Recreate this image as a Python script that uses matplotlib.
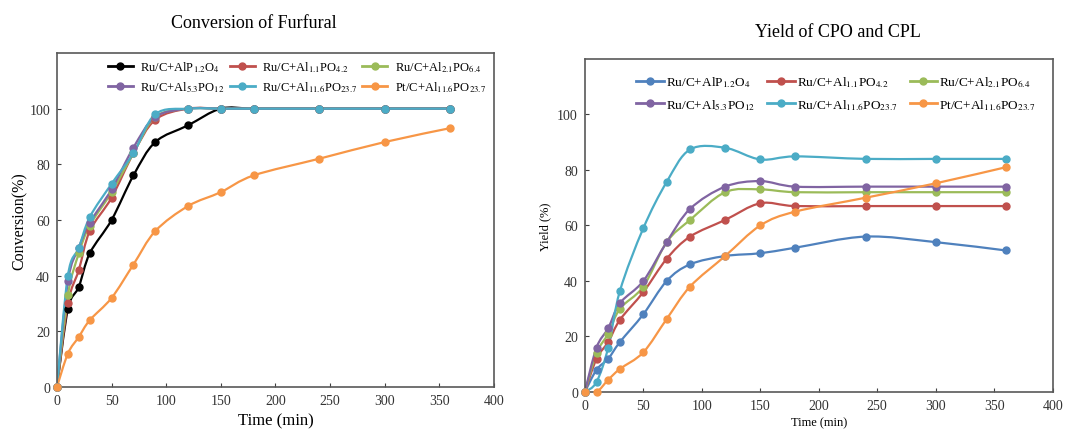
import numpy as np
import matplotlib
matplotlib.use("Agg")
import matplotlib.pyplot as plt
from matplotlib.path import Path
from matplotlib.patches import PathPatch
from matplotlib.lines import Line2D

plt.rcParams['font.family'] = ['Liberation Serif', 'DejaVu Serif']
plt.rcParams['mathtext.fontset'] = 'stix'

# time points (min)
t = [0, 10, 20, 30, 50, 70, 90, 120, 150, 180, 240, 300, 360]

labels = [r'Ru/C+AlP$_{1.2}$O$_4$', r'Ru/C+Al$_{1.1}$PO$_{4.2}$', r'Ru/C+Al$_{2.1}$PO$_{6.4}$',
          r'Ru/C+Al$_{5.3}$PO$_{12}$', r'Ru/C+Al$_{11.6}$PO$_{23.7}$', r'Pt/C+Al$_{11.6}$PO$_{23.7}$']

# conversion of furfural (%)
conv_alp12 = [0, 28, 36, 48, 60, 76, 88, 94, 100, 100, 100, 100, 100]
conv_al11 = [0, 30, 42, 56, 68, 84, 96, 100, 100, 100, 100, 100, 100]
conv_al21 = [0, 33, 48, 58, 70, 84, 97, 100, 100, 100, 100, 100, 100]
conv_al53 = [0, 38, 50, 59, 71, 86, 97, 100, 100, 100, 100, 100, 100]
conv_al116 = [0, 40, 50, 61, 73, 84, 98, 100, 100, 100, 100, 100, 100]
conv_pt = [0, 12, 18, 24, 32, 44, 56, 65, 70, 76, 82, 88, 93]

# yield of CPO and CPL (%)
yld_alp12 = [0, 8, 12, 18, 28, 40, 46, 49, 50, 52, 56, 54, 51]
yld_al11 = [0, 12, 18, 26, 36, 48, 56, 62, 68, 67, 67, 67, 67]
yld_al21 = [0, 14, 21, 30, 38, 54, 62, 72, 73, 72, 72, 72, 72]
yld_al53 = [0, 16, 23, 32, 40, 54, 66, 74, 76, 74, 74, 74, 74]
yld_al116 = [0, 3.6, 16, 36.4, 59, 75.7, 87.4, 88, 83.8, 84.9, 84, 84, 84]
yld_pt = [0, 0, 4.4, 8.3, 14.3, 26.3, 38, 49, 60, 65, 70, 75.2, 81]

conv = [conv_alp12, conv_al11, conv_al21, conv_al53, conv_al116, conv_pt]
yld = [yld_alp12, yld_al11, yld_al21, yld_al53, yld_al116, yld_pt]

cols_left = ['#000000', '#C0504D', '#9BBB59', '#8064A2', '#4BACC6', '#F79646']
cols_right = ['#4F81BD', '#C0504D', '#9BBB59', '#8064A2', '#4BACC6', '#F79646']

# legend fills column by column, reorder so the rows read 1-2-3 / 4-5-6
order = [0, 3, 1, 4, 2, 5]


def smooth_line(ax, x, y, c):
    # excel-like smoothed line: cubic bezier between points
    x = np.asarray(x, float)
    y = np.asarray(y, float)
    n = len(x)
    verts = [(x[0], y[0])]
    codes = [Path.MOVETO]
    for i in range(n - 1):
        x0, y0 = (x[i - 1], y[i - 1]) if i > 0 else (x[i], y[i])
        x3, y3 = (x[i + 2], y[i + 2]) if i + 2 < n else (x[i + 1], y[i + 1])
        c1 = (x[i] + (x[i + 1] - x0) / 6, y[i] + (y[i + 1] - y0) / 6)
        c2 = (x[i + 1] - (x3 - x[i]) / 6, y[i + 1] - (y3 - y[i]) / 6)
        verts += [c1, c2, (x[i + 1], y[i + 1])]
        codes += [Path.CURVE4] * 3
    ax.add_patch(PathPatch(Path(verts, codes), fill=False, edgecolor=c, lw=1.6, zorder=2))
    ax.plot(x, y, 'o', color=c, ms=5, zorder=3, clip_on=False)


def setup(ax, ylab, fs_lab):
    ax.set_xlim(0, 400)
    ax.set_ylim(0, 120)
    ax.set_xticks(range(0, 401, 50))
    ax.set_yticks(range(0, 101, 20))
    ax.tick_params(direction='in', labelsize=10, length=3, pad=5, colors='#404040', labelcolor='#333333')
    for s in ax.spines.values():
        s.set_color('#595959')
        s.set_linewidth(1.2)
    ax.set_ylabel(ylab, fontsize=fs_lab)


fig = plt.figure(figsize=(10.83, 4.31), dpi=100)
ax1 = fig.add_axes([0.0526, 0.0998, 0.4035, 0.775])
ax2 = fig.add_axes([0.540, 0.0882, 0.432, 0.7726])

for i in range(6):
    smooth_line(ax1, t, conv[i], cols_left[i])
    smooth_line(ax2, t, yld[i], cols_right[i])

setup(ax1, 'Conversion(%)', 11.5)
ax1.set_xlabel('Time (min)', fontsize=12, labelpad=4)
ax1.yaxis.labelpad = 1
fig.text(0.234, 0.945, 'Conversion of Furfural', ha='center', va='center', fontsize=13)

setup(ax2, 'Yield (%)', 9)
ax2.set_xlabel('Time (min)', fontsize=9, labelpad=3)
ax2.yaxis.labelpad = 4
fig.text(0.774, 0.925, 'Yield of CPO and CPL', ha='center', va='center', fontsize=13)

h1 = [Line2D([], [], color=c, marker='o', ms=5, lw=2) for c in cols_left]
h2 = [Line2D([], [], color=c, marker='o', ms=5, lw=2) for c in cols_right]
ax1.legend([h1[k] for k in order], [labels[k] for k in order], ncol=3, loc='upper left',
           bbox_to_anchor=(0.09, 1.015), frameon=False, fontsize=9, handlelength=2.0,
           columnspacing=0.4, handletextpad=0.6, labelspacing=0.45)
ax2.legend([h2[k] for k in order], [labels[k] for k in order], ncol=3, loc='upper left',
           bbox_to_anchor=(0.085, 0.99), frameon=False, fontsize=9.5, handlelength=2.1,
           columnspacing=0.9, handletextpad=0.15, labelspacing=0.6)

fig.savefig('out.png', dpi=100)
